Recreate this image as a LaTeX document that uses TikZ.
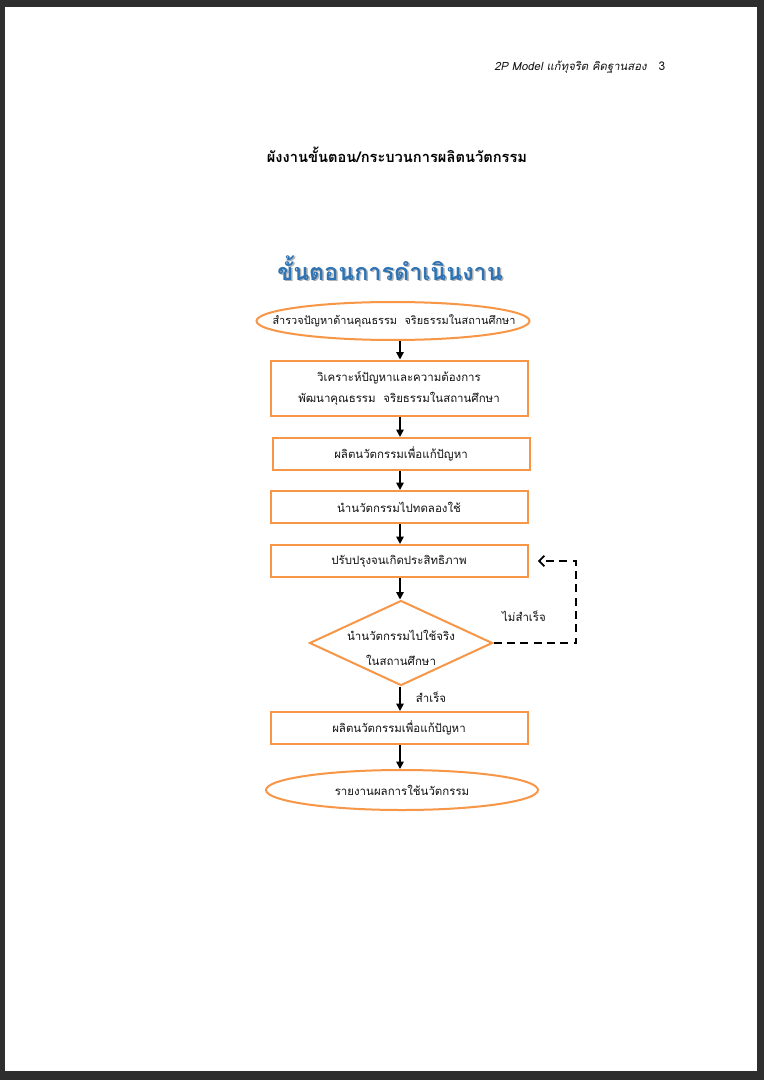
\documentclass[tikz,border=0pt]{standalone}
\usepackage{fontspec}
\usetikzlibrary{arrows.meta,shapes.geometric}
\newfontfamily\thai[Script=Thai]{Loma}
\newfontfamily\thaisl[Script=Thai,FakeSlant=0.2]{Loma}
\definecolor{frame}{HTML}{2E2E2E}
\definecolor{orng}{HTML}{F79646}
\definecolor{txt}{HTML}{111111}
\definecolor{ttlblue}{HTML}{2E74B5}
\tikzset{
  stepbox/.style={draw=orng,line width=1.5pt,fill=white,rectangle,inner sep=0pt,
    minimum width=192.75pt,minimum height=24pt,text=txt,align=center,
    font=\thai\fontsize{8.6}{15.75}\selectfont},
  ovalbox/.style={draw=orng,line width=1.5pt,ellipse,inner sep=0pt},
  decbox/.style={draw=orng,line width=1.5pt,diamond,inner sep=0pt,
    minimum width=137.25pt,minimum height=63.75pt},
  lbl/.style={text=txt,align=center,inner sep=0pt,font=\thai\fontsize{8.6}{18.75}\selectfont},
  flow/.style={draw=black,line width=1.2pt,-{Triangle[length=5.5pt,width=5.5pt]}},
  dashloop/.style={draw=black,line width=1.5pt,dash pattern=on 6pt off 4pt,
    -{Straight Barb[length=4pt,width=8pt,line width=1.3pt]}}
}
\begin{document}
\begin{tikzpicture}[x=0.75pt,y=-0.75pt]
\useasboundingbox (0,0) rectangle (764,1080);
\fill[frame] (0,0) rectangle (764,1080);
\fill[white] (5,7) rectangle (757,1071);
% header
\node[anchor=base east,inner sep=0pt,text=txt,font=\thaisl\fontsize{8.5}{10}\selectfont] (hdr) at (647,71) {2P Model แก้ทุจริต คิดฐานสอง};
\node[anchor=base,inner sep=0pt,text=txt,font=\thai\fontsize{9}{10}\selectfont] (pg) at (662,71) {3};
% titles
\node[inner sep=0pt,text=black,font=\thai\bfseries\fontsize{11}{12}\selectfont] (ttl) at (397,155) {ผังงานขั้นตอน/กระบวนการผลิตนวัตกรรม};
\node[inner sep=0pt,text=black!30,font=\thai\bfseries\fontsize{17.5}{20}\selectfont] (bigs) at (391.5,269.5) {ขั้นตอนการดำเนินงาน};
\node[inner sep=0pt,text=ttlblue,font=\thai\bfseries\fontsize{17.5}{20}\selectfont] (big) at (390,268) {ขั้นตอนการดำเนินงาน};
% flow
\node[ovalbox,minimum width=204.75pt,minimum height=28.5pt] (s1) at (393,321) {};
\node[lbl,font=\thai\fontsize{8.2}{10}\selectfont] (s1t) at (394,321) {สำรวจปัญหาด้านคุณธรรม\ \ จริยธรรมในสถานศึกษา};
\node[stepbox,minimum height=41.25pt] (s2) at (399,388) {วิเคราะห์ปัญหาและความต้องการ\\พัฒนาคุณธรรม\ \ จริยธรรมในสถานศึกษา};
\node[stepbox] (s3) at (401,454) {ผลิตนวัตกรรมเพื่อแก้ปัญหา};
\node[stepbox] (s4) at (399,507) {นำนวัตกรรมไปทดลองใช้};
\node[stepbox] (s5) at (399,561) {ปรับปรุงจนเกิดประสิทธิภาพ};
\node[decbox] (d6) at (401,643) {};
\node[lbl] (d6t) at (401,648) {นำนวัตกรรมไปใช้จริง\\ในสถานศึกษา};
\node[stepbox] (s7) at (399,728) {ผลิตนวัตกรรมเพื่อแก้ปัญหา};
\node[ovalbox,minimum width=204pt,minimum height=30pt] (s8) at (402,790) {};
\node[lbl] (s8t) at (402,790) {รายงานผลการใช้นวัตกรรม};
% connectors
\draw[flow] (s1.south -| 400,0) -- (s2.north -| 400,0);
\draw[flow] (s2.south -| 400,0) -- (s3.north -| 400,0);
\draw[flow] (s3.south -| 400,0) -- (s4.north -| 400,0);
\draw[flow] (s4.south -| 400,0) -- (s5.north -| 400,0);
\draw[flow] (s5.south -| 400,0) -- (d6.north -| 400,0);
\draw[flow] (d6.south -| 400,0) -- (s7.north -| 400,0);
\draw[flow] (s7.south -| 400,0) -- (s8.north -| 400,0);
\coordinate (lp) at (576,561);
\draw[dashloop,shorten >=7pt] (d6.east) -| (lp) -- (s5.east);
\node[lbl] (no) at (524,616) {ไม่สำเร็จ};
\node[lbl] (yes) at (431,697) {สำเร็จ};
\end{tikzpicture}
\end{document}
